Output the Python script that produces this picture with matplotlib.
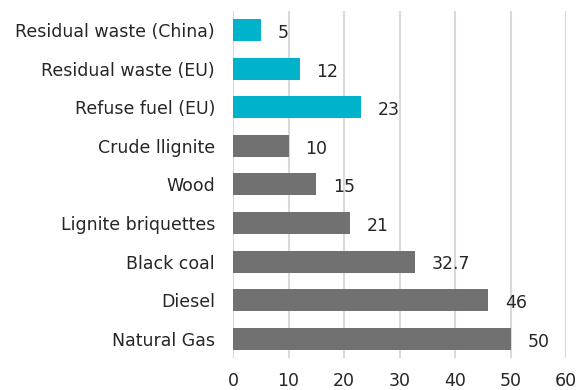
import matplotlib.pyplot as plt

# data (top to bottom as shown)
categories = ["Residual waste (China)", "Residual waste (EU)", "Refuse fuel (EU)",
              "Crude llignite", "Wood", "Lignite briquettes", "Black coal",
              "Diesel", "Natural Gas"]
values = [5, 12, 23, 10, 15, 21, 32.7, 46, 50]
value_labels = ["5", "12", "23", "10", "15", "21", "32.7", "46", "50"]
is_waste = [True, True, True, False, False, False, False, False, False]

cyan = "#00B3CA"
grey = "#717171"
text_col = "#262626"

plt.rcParams['font.family'] = ['DejaVu Sans']

fig = plt.figure(figsize=(5.77, 3.90), dpi=100)
ax = fig.add_axes([0.404, 0.082, 0.577, 0.890])

ypos = list(range(len(categories)))
colors = [cyan if w else grey for w in is_waste]
ax.barh(ypos, values, height=0.57, color=colors, zorder=3)

for y, v, lab in zip(ypos, values, value_labels):
    ax.annotate(lab, (v, y), xytext=(12, -2), textcoords="offset points",
                ha="left", va="center", fontsize=12.5, color=text_col)

ax.set_ylim(len(categories) - 0.5, -0.5)
ax.set_xlim(0, 60)
ax.set_xticks(range(0, 61, 10))
ax.set_yticks(ypos)
ax.set_yticklabels(categories)
ax.tick_params(axis="y", length=0, pad=13, labelsize=12.5, labelcolor=text_col)
ax.tick_params(axis="x", length=0, pad=10, labelsize=12.5, labelcolor=text_col)
ax.xaxis.grid(True, color="#d9d9d9", linewidth=1.5, zorder=0)
for s in ax.spines.values():
    s.set_visible(False)

fig.savefig("out.png", dpi=100)
